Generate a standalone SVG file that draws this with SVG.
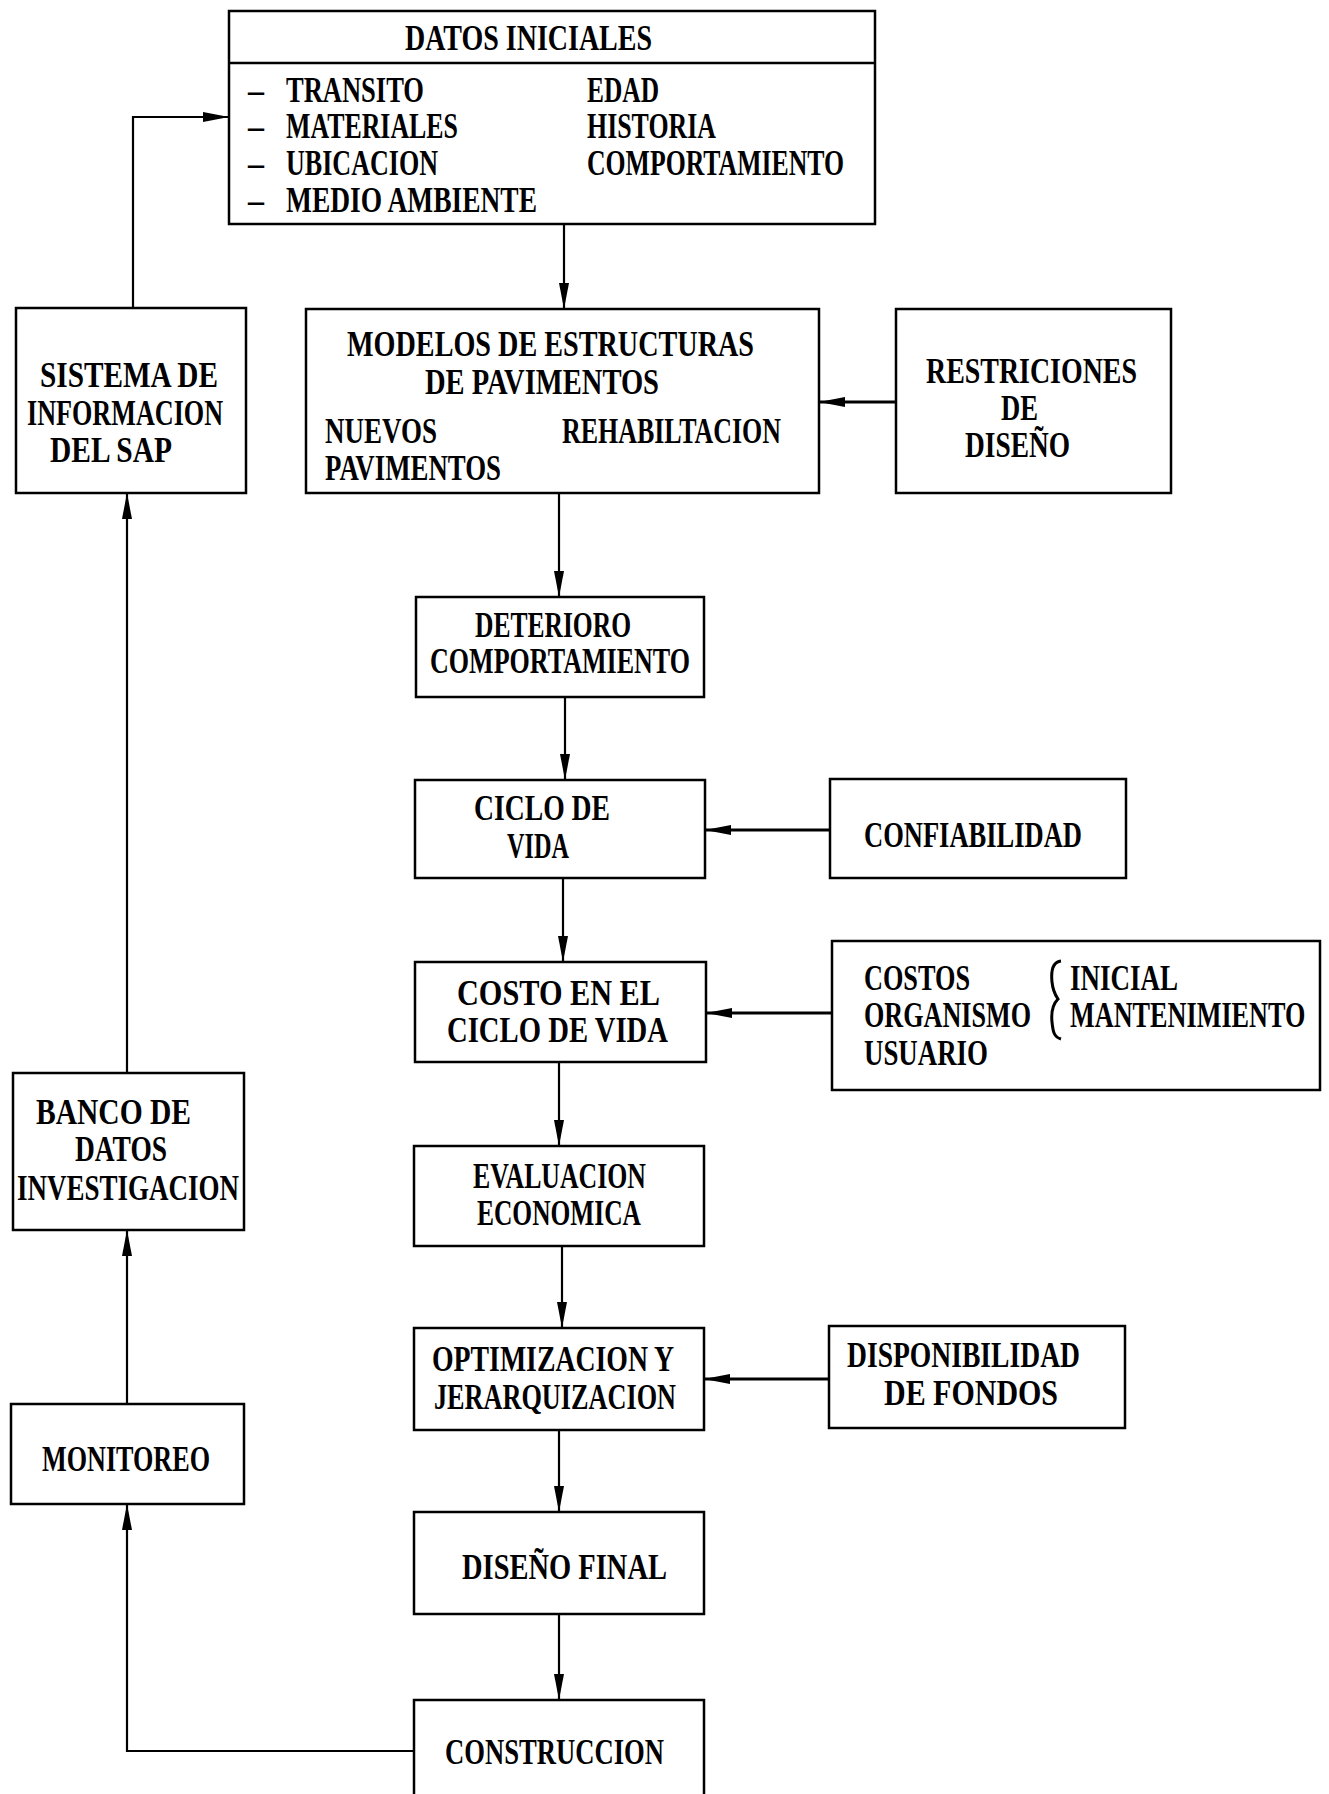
<svg xmlns="http://www.w3.org/2000/svg" width="1329" height="1794" viewBox="0 0 1329 1794">
<style>
.box{fill:#fff;stroke:#000;stroke-width:2.5}
.ln{fill:none;stroke:#000;stroke-width:2.2}
.lh{fill:none;stroke:#000;stroke-width:3}
text{font-family:"Liberation Serif","Times New Roman",serif;font-weight:bold;font-size:35px;fill:#000}
</style>
<defs>
<marker id="ah" viewBox="0 0 26 10" refX="26" refY="5" markerWidth="26" markerHeight="10" markerUnits="userSpaceOnUse" orient="auto">
<path d="M0,0 L26,5 L0,10 Q-2,5 0,0 Z" fill="#000"/>
</marker>
</defs>
<rect width="1329" height="1794" fill="#fff"/>
<g id="connectors">
<path class="ln" d="M133,308 V117 H229" marker-end="url(#ah)"/>
<path class="ln" d="M564,224 V309" marker-end="url(#ah)"/>
<path class="lh" d="M896,402 H819" marker-end="url(#ah)"/>
<path class="ln" d="M559,493 V597" marker-end="url(#ah)"/>
<path class="ln" d="M565,697 V780" marker-end="url(#ah)"/>
<path class="lh" d="M830,830 H705" marker-end="url(#ah)"/>
<path class="ln" d="M563,878 V962" marker-end="url(#ah)"/>
<path class="lh" d="M832,1013 H706" marker-end="url(#ah)"/>
<path class="ln" d="M559,1062 V1146" marker-end="url(#ah)"/>
<path class="ln" d="M562,1246 V1328" marker-end="url(#ah)"/>
<path class="lh" d="M829,1379 H704" marker-end="url(#ah)"/>
<path class="ln" d="M559,1430 V1512" marker-end="url(#ah)"/>
<path class="ln" d="M559,1614 V1700" marker-end="url(#ah)"/>
<path class="ln" d="M414,1751 H127 V1504" marker-end="url(#ah)"/>
<path class="ln" d="M127,1404 V1230" marker-end="url(#ah)"/>
<path class="ln" d="M127,1073 V493" marker-end="url(#ah)"/>
</g>
<g id="datos-iniciales">
<rect class="box" x="229" y="11" width="646" height="213"/>
<line class="box" x1="229" y1="63" x2="875" y2="63"/>
<text x="405" y="50" textLength="247" lengthAdjust="spacingAndGlyphs">DATOS  INICIALES</text>
<text x="248" y="102" textLength="16" lengthAdjust="spacingAndGlyphs">–</text>
<text x="248" y="138" textLength="16" lengthAdjust="spacingAndGlyphs">–</text>
<text x="248" y="175" textLength="16" lengthAdjust="spacingAndGlyphs">–</text>
<text x="248" y="212" textLength="16" lengthAdjust="spacingAndGlyphs">–</text>
<text x="286" y="102" textLength="138" lengthAdjust="spacingAndGlyphs">TRANSITO</text>
<text x="286" y="138" textLength="172" lengthAdjust="spacingAndGlyphs">MATERIALES</text>
<text x="286" y="175" textLength="152" lengthAdjust="spacingAndGlyphs">UBICACION</text>
<text x="286" y="212" textLength="251" lengthAdjust="spacingAndGlyphs">MEDIO  AMBIENTE</text>
<text x="587" y="102" textLength="72" lengthAdjust="spacingAndGlyphs">EDAD</text>
<text x="587" y="138" textLength="129" lengthAdjust="spacingAndGlyphs">HISTORIA</text>
<text x="587" y="175" textLength="257" lengthAdjust="spacingAndGlyphs">COMPORTAMIENTO</text>
</g>
<g id="sistema-informacion">
<rect class="box" x="16" y="308" width="230" height="185"/>
<text x="40" y="387" textLength="178" lengthAdjust="spacingAndGlyphs">SISTEMA  DE</text>
<text x="27" y="425" textLength="196" lengthAdjust="spacingAndGlyphs">INFORMACION</text>
<text x="50" y="462" textLength="122" lengthAdjust="spacingAndGlyphs">DEL  SAP</text>
</g>
<g id="modelos">
<rect class="box" x="306" y="309" width="513" height="184"/>
<text x="347" y="356" textLength="407" lengthAdjust="spacingAndGlyphs">MODELOS  DE  ESTRUCTURAS</text>
<text x="425" y="394" textLength="234" lengthAdjust="spacingAndGlyphs">DE  PAVIMENTOS</text>
<text x="325" y="443" textLength="112" lengthAdjust="spacingAndGlyphs">NUEVOS</text>
<text x="562" y="443" textLength="219" lengthAdjust="spacingAndGlyphs">REHABILTACION</text>
<text x="325" y="480" textLength="176" lengthAdjust="spacingAndGlyphs">PAVIMENTOS</text>
</g>
<g id="restriciones">
<rect class="box" x="896" y="309" width="275" height="184"/>
<text x="926" y="383" textLength="211" lengthAdjust="spacingAndGlyphs">RESTRICIONES</text>
<text x="1001" y="420" textLength="37" lengthAdjust="spacingAndGlyphs">DE</text>
<text x="965" y="457" textLength="105" lengthAdjust="spacingAndGlyphs">DISEÑO</text>
</g>
<g id="deterioro">
<rect class="box" x="416" y="597" width="288" height="100"/>
<text x="475" y="637" textLength="156" lengthAdjust="spacingAndGlyphs">DETERIORO</text>
<text x="430" y="673" textLength="260" lengthAdjust="spacingAndGlyphs">COMPORTAMIENTO</text>
</g>
<g id="ciclo-vida">
<rect class="box" x="415" y="780" width="290" height="98"/>
<text x="474" y="820" textLength="136" lengthAdjust="spacingAndGlyphs">CICLO  DE</text>
<text x="507" y="858" textLength="62" lengthAdjust="spacingAndGlyphs">VIDA</text>
</g>
<g id="confiabilidad">
<rect class="box" x="830" y="779" width="296" height="99"/>
<text x="864" y="847" textLength="218" lengthAdjust="spacingAndGlyphs">CONFIABILIDAD</text>
</g>
<g id="costo-ciclo">
<rect class="box" x="415" y="962" width="291" height="100"/>
<text x="457" y="1005" textLength="203" lengthAdjust="spacingAndGlyphs">COSTO  EN  EL</text>
<text x="447" y="1042" textLength="221" lengthAdjust="spacingAndGlyphs">CICLO  DE  VIDA</text>
</g>
<g id="costos">
<rect class="box" x="832" y="941" width="488" height="149"/>
<text x="864" y="990" textLength="106" lengthAdjust="spacingAndGlyphs">COSTOS</text>
<text x="864" y="1027" textLength="167" lengthAdjust="spacingAndGlyphs">ORGANISMO</text>
<text x="864" y="1065" textLength="124" lengthAdjust="spacingAndGlyphs">USUARIO</text>
<path d="M1061,961 C1052,962 1051,972 1052,982 C1053,992 1056,996 1058,999 C1053,1004 1051,1012 1052,1022 C1053,1032 1054,1037 1061,1039" fill="none" stroke="#000" stroke-width="3"/>
<text x="1070" y="990" textLength="108" lengthAdjust="spacingAndGlyphs">INICIAL</text>
<text transform="translate(1070,1027) scale(0.749,1)" x="0" y="0">MANTENIMIENTO</text>
</g>
<g id="evaluacion">
<rect class="box" x="414" y="1146" width="290" height="100"/>
<text x="473" y="1188" textLength="173" lengthAdjust="spacingAndGlyphs">EVALUACION</text>
<text x="477" y="1225" textLength="164" lengthAdjust="spacingAndGlyphs">ECONOMICA</text>
</g>
<g id="optimizacion">
<rect class="box" x="414" y="1328" width="290" height="102"/>
<text x="432" y="1371" textLength="242" lengthAdjust="spacingAndGlyphs">OPTIMIZACION  Y</text>
<text x="434" y="1409" textLength="242" lengthAdjust="spacingAndGlyphs">JERARQUIZACION</text>
</g>
<g id="disponibilidad">
<rect class="box" x="829" y="1326" width="296" height="102"/>
<text x="847" y="1367" textLength="233" lengthAdjust="spacingAndGlyphs">DISPONIBILIDAD</text>
<text x="884" y="1405" textLength="174" lengthAdjust="spacingAndGlyphs">DE  FONDOS</text>
</g>
<g id="diseno-final">
<rect class="box" x="414" y="1512" width="290" height="102"/>
<text x="462" y="1579" textLength="205" lengthAdjust="spacingAndGlyphs">DISEÑO  FINAL</text>
</g>
<g id="construccion">
<rect class="box" x="414" y="1700" width="290" height="110"/>
<text x="445" y="1764" textLength="219" lengthAdjust="spacingAndGlyphs">CONSTRUCCION</text>
</g>
<g id="monitoreo">
<rect class="box" x="11" y="1404" width="233" height="100"/>
<text x="42" y="1471" textLength="168" lengthAdjust="spacingAndGlyphs">MONITOREO</text>
</g>
<g id="banco-datos">
<rect class="box" x="13" y="1073" width="231" height="157"/>
<text x="36" y="1124" textLength="155" lengthAdjust="spacingAndGlyphs">BANCO  DE</text>
<text x="75" y="1161" textLength="92" lengthAdjust="spacingAndGlyphs">DATOS</text>
<text x="17" y="1200" textLength="222" lengthAdjust="spacingAndGlyphs">INVESTIGACION</text>
</g>
</svg>
